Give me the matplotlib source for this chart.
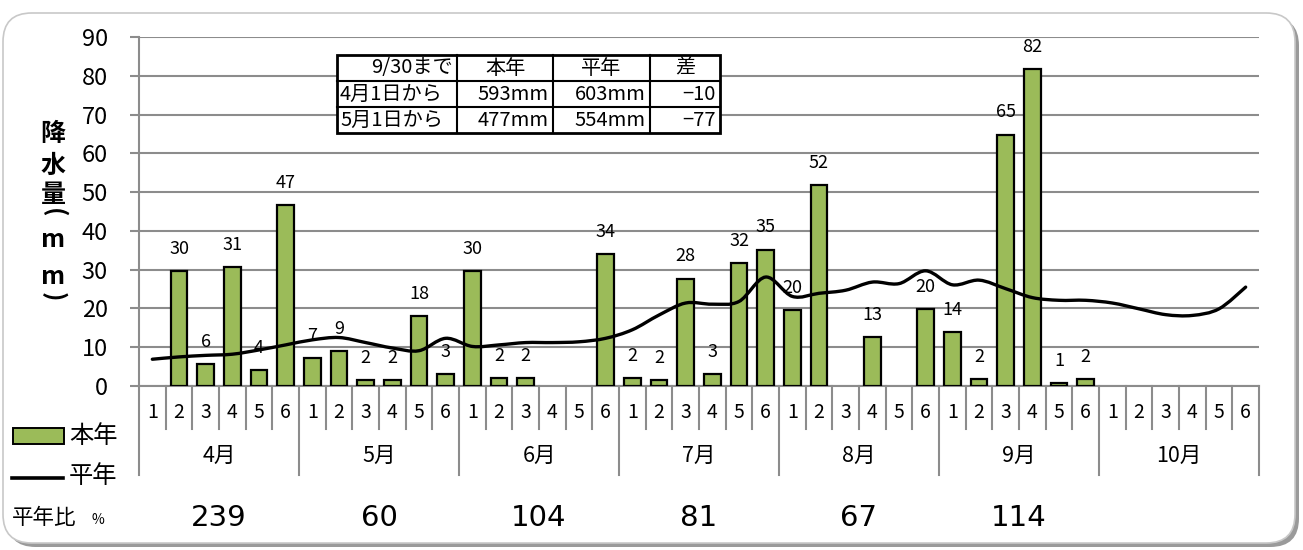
import numpy as np
import matplotlib
matplotlib.use('Agg')
import matplotlib.pyplot as plt
from matplotlib.path import Path
from matplotlib.patches import PathPatch, Rectangle, FancyBboxPatch
from matplotlib.lines import Line2D
import matplotlib.transforms as mtransforms

plt.rcParams['font.family'] = ['Noto Sans CJK JP', 'DejaVu Sans']

# data
months = ['4月', '5月', '6月', '7月', '8月', '9月', '10月']
pentads = ['1', '2', '3', '4', '5', '6']
nan = np.nan
rain = [nan, 29.6, 5.6, 30.7, 4.1, 46.6,
        7.1, 9.0, 1.6, 1.6, 18.1, 3.1,
        29.6, 2.0, 2.0, nan, nan, 34.0,
        2.0, 1.6, 27.7, 3.1, 31.6, 35.2,
        19.6, 51.8, nan, 12.6, nan, 19.9,
        13.9, 1.7, 64.8, 81.8, 0.7, 1.7,
        nan, nan, nan, nan, nan, nan]
normal = [6.9, 7.5, 7.9, 8.2, 9.3, 10.6,
          11.9, 12.5, 11.2, 9.8, 9.1, 12.3,
          10.2, 10.6, 11.2, 11.2, 11.4, 12.3,
          14.5, 18.3, 21.4, 21.1, 21.8, 28.1,
          23.1, 23.9, 24.7, 26.8, 26.4, 29.7,
          26.1, 27.3, 25.1, 22.8, 22.1, 22.1,
          21.4, 19.9, 18.4, 18.2, 19.9, 25.5]
ratio = ['239', '60', '104', '81', '67', '114', '']
table_header = ['9/30まで', '本年', '平年', '差']
table_rows = [['4月1日から', '593mm', '603mm', '−10'],
              ['5月1日から', '477mm', '554mm', '−77']]

W, H = 1303, 550
GREEN = '#9bbb59'
GRID = '#8c8c8c'


def fx(x):
    return x / W


def fy(y):
    return 1 - y / H


fig = plt.figure(figsize=(W / 100, H / 100), dpi=100)

# rounded frame with a shadow
fig.patches.append(FancyBboxPatch((fx(7), fy(547)), fx(1292), 530 / H,
                                  boxstyle='round,pad=0,rounding_size=0.022',
                                  transform=fig.transFigure, facecolor='#9a9a9a',
                                  edgecolor='none', mutation_aspect=W / H, zorder=-2))
fig.patches.append(FancyBboxPatch((fx(3), fy(543)), fx(1292), 530 / H,
                                  boxstyle='round,pad=0,rounding_size=0.022',
                                  transform=fig.transFigure, facecolor='white',
                                  edgecolor='#c8c8c8', linewidth=1.2,
                                  mutation_aspect=W / H, zorder=-1))

ax = fig.add_axes([fx(139), fy(386), (1259 - 139) / W, (386 - 37) / H])
ax.set_facecolor('none')
n = len(rain)
x = np.arange(n)

ax.bar(x, rain, width=0.62, color=GREEN, edgecolor='black', linewidth=1.6, zorder=3)
for xi, v in zip(x, rain):
    if not np.isnan(v):
        ax.annotate(f'{v:.0f}', (xi, v), xytext=(0, 16), textcoords='offset points',
                    ha='center', va='center', fontsize=13, zorder=5)

# smoothed normal line (bezier through the pentad values)
pts = np.column_stack([x, normal]).astype(float)
verts = [tuple(pts[0])]
codes = [Path.MOVETO]
for i in range(n - 1):
    p0 = pts[max(i - 1, 0)]
    p1 = pts[i]
    p2 = pts[i + 1]
    p3 = pts[min(i + 2, n - 1)]
    c1 = p1 + (p2 - p0) / 6
    c2 = p2 - (p3 - p1) / 6
    verts += [tuple(c1), tuple(c2), tuple(p2)]
    codes += [Path.CURVE4] * 3
ax.add_patch(PathPatch(Path(verts, codes), facecolor='none', edgecolor='black',
                       linewidth=2.4, zorder=4, capstyle='round'))

ax.set_xlim(-0.5, n - 0.5)
ax.set_ylim(0, 90)
ax.set_yticks(range(0, 91, 10))
ax.yaxis.grid(True, color=GRID, linewidth=1.5, zorder=0)
ax.set_axisbelow(True)
ax.tick_params(axis='y', length=6.5, width=1.5, color=GRID, pad=16, labelsize=17)
ax.tick_params(axis='x', length=0, labelbottom=False)
for s in ['top', 'right']:
    ax.spines[s].set_visible(False)
for s in ['left', 'bottom']:
    ax.spines[s].set_color(GRID)
    ax.spines[s].set_linewidth(1.5)

# two-level category axis
trans = mtransforms.blended_transform_factory(ax.transData, ax.transAxes)
ph = 349
for b in range(n + 1):
    depth = (475 - 386) / ph if b % 6 == 0 else (429 - 386) / ph
    ax.plot([b - 0.5, b - 0.5], [0, -depth], color=GRID, linewidth=1.5,
            transform=trans, clip_on=False)
for i in range(n):
    ax.text(i, -(413 - 386) / ph, pentads[i % 6], transform=trans,
            ha='center', va='center', fontsize=14)
for m, name in enumerate(months):
    ax.text(m * 6 + 2.5, -(456 - 386) / ph, name, transform=trans,
            ha='center', va='center', fontsize=15.5)
    if ratio[m]:
        ax.text(m * 6 + 2.5, -(518 - 386) / ph, ratio[m], transform=trans,
                ha='center', va='center', fontsize=21,
                family=['DejaVu Sans'])

# y label, one character per row
for ch, yy, rot in [('降', 134, 0), ('水', 166, 0), ('量', 195, 0), ('(', 213, -90),
                    ('m', 240, 0), ('m', 277, 0), (')', 297, -90)]:
    fig.text(fx(53), fy(yy), ch, ha='center', va='center', fontsize=18,
             fontweight='bold', rotation=rot)

# legend
fig.patches.append(Rectangle((fx(13), fy(444)), 51 / W, 16 / H, transform=fig.transFigure,
                             facecolor=GREEN, edgecolor='black', linewidth=1.4))
fig.text(fx(69), fy(436), '本年', ha='left', va='center', fontsize=17.5)
fig.lines.append(Line2D([fx(12), fx(63)], [fy(478), fy(478)], transform=fig.transFigure,
                        color='black', linewidth=2.6))
fig.text(fx(69), fy(476), '平年', ha='left', va='center', fontsize=17.5)
fig.text(fx(12), fy(518), '平年比', ha='left', va='center', fontsize=15.5)
fig.text(fx(91), fy(520), '%', ha='left', va='center', fontsize=10)

# summary table
col_x = [337, 457, 553, 650, 720]
row_y = [55, 81, 107, 133]
cells = [table_header] + table_rows
for r, row in enumerate(cells):
    yc = (row_y[r] + row_y[r + 1]) / 2
    for c, txt in enumerate(row):
        if r == 0 and c > 0:
            xt, ha = (col_x[c] + col_x[c + 1]) / 2, 'center'
        elif c == 0 and r > 0:
            xt, ha = col_x[c] + 3, 'left'
        else:
            xt, ha = col_x[c + 1] - 4, 'right'
        fig.text(fx(xt), fy(yc), txt, ha=ha, va='center', fontsize=14.5, zorder=6)
fig.patches.append(Rectangle((fx(337), fy(133)), (720 - 337) / W, (133 - 55) / H,
                             transform=fig.transFigure, facecolor='white',
                             edgecolor='black', linewidth=2, zorder=5))
for yy in row_y[1:-1]:
    fig.lines.append(Line2D([fx(337), fx(720)], [fy(yy), fy(yy)],
                            transform=fig.transFigure, color='black', linewidth=1.5, zorder=6))
for xx in col_x[1:-1]:
    fig.lines.append(Line2D([fx(xx), fx(xx)], [fy(55), fy(133)],
                            transform=fig.transFigure, color='black', linewidth=1.5, zorder=6))

fig.savefig('out.png', dpi=100)
